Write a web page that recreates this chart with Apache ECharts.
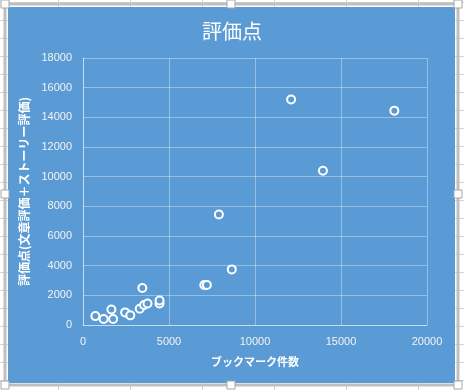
<!DOCTYPE html>
<html><head><meta charset="utf-8">
<script src="https://cdn.jsdelivr.net/npm/echarts@6/dist/echarts.min.js"></script>
<style>html,body{margin:0;padding:0;background:#fff}#c{width:464px;height:390px}</style>
</head><body><div id="c"></div>
<script>
const titleText = '評価点';
const xAxisName = 'ブックマーク件数';
const yAxisName = '評価点(文章評価＋ストーリー評価)';
const bookmarks = [720, 1200, 1650, 1750, 2450, 2750, 3300, 3550, 3750, 4450, 4450, 3450, 7050, 7200, 8650, 7900, 12100, 13950, 18100];
const scores    = [600, 400, 1050, 400, 850, 650, 1100, 1350, 1450, 1450, 1650, 2500, 2700, 2700, 3750, 7450, 15200, 10400, 14450];

const points = bookmarks.map((x, i) => [x, scores[i]]);
const chart = echarts.init(document.getElementById('c'), null, {renderer: 'canvas'});

// spreadsheet background
const sheet = [];
[58, 130, 202, 274, 346, 418].forEach(x => sheet.push({type:'line', shape:{x1:x+0.5,y1:0,x2:x+0.5,y2:390}, style:{stroke:'#d4d4d4', lineWidth:1}, z:-10}));
for (let y = 2; y < 390; y += 18) sheet.push({type:'line', shape:{x1:0,y1:y+0.5,x2:464,y2:y+0.5}, style:{stroke:'#d4d4d4', lineWidth:1}, z:-10});
const frame = [
  {type:'rect', shape:{x:5, y:4, width:453, height:381}, style:{fill:'none', stroke:'#bfbfbf', lineWidth:3}, z:-5},
  {type:'rect', shape:{x:8, y:7, width:447, height:376}, style:{fill:'#5B9BD5'}, z:-4}
];
const handles = [];
[[5,4],[231,4],[458,4],[5,194],[458,194],[5,385],[231,385],[458,385]].forEach(([x,y]) =>
  handles.push({type:'rect', shape:{x:x-4, y:y-4, width:8, height:8}, style:{fill:'#fff', stroke:'#a6a6a6', lineWidth:1}, z:-3}));

const plain = v => String(v);

chart.setOption({
  backgroundColor: '#ffffff',
  animation: false,
  graphic: sheet.concat(frame, handles),
  title: {
    text: titleText, left: 'center', top: 16,
    textStyle: {color: '#ffffff', fontSize: 20, fontWeight: 'normal', fontFamily: 'Noto Sans CJK JP'}
  },
  grid: {left: 83, right: 37, top: 58, bottom: 65},
  xAxis: {
    type: 'value', min: 0, max: 20000, interval: 5000,
    name: xAxisName, nameLocation: 'middle', nameGap: 31,
    nameTextStyle: {color: '#ffffff', fontSize: 11, fontWeight: 'bold', fontFamily: 'Noto Sans CJK JP'},
    axisLine: {show: true, lineStyle: {color: 'rgba(255,255,255,0.45)'}},
    axisTick: {show: false},
    axisLabel: {color: '#f2f2f2', fontSize: 11, margin: 11, fontFamily: 'Liberation Sans', formatter: plain},
    splitLine: {show: true, lineStyle: {color: 'rgba(255,255,255,0.35)'}}
  },
  yAxis: {
    type: 'value', min: 0, max: 18000, interval: 2000,
    name: yAxisName, nameLocation: 'middle', nameGap: 33, nameRotate: 90,
    nameTextStyle: {color: '#ffffff', fontSize: 12, fontWeight: 'bold', fontFamily: 'Noto Sans CJK JP'},
    axisLine: {show: true, lineStyle: {color: 'rgba(255,255,255,0.45)'}},
    axisTick: {show: false},
    axisLabel: {color: '#f2f2f2', fontSize: 11, margin: 11, fontFamily: 'Liberation Sans', formatter: plain},
    splitLine: {show: true, lineStyle: {color: 'rgba(255,255,255,0.35)'}}
  },
  series: [{
    type: 'scatter', data: points,
    symbol: 'circle', symbolSize: 8,
    itemStyle: {color: '#5B9BD5', borderColor: '#ffffff', borderWidth: 2, opacity: 1}
  }]
});
</script></body></html>
